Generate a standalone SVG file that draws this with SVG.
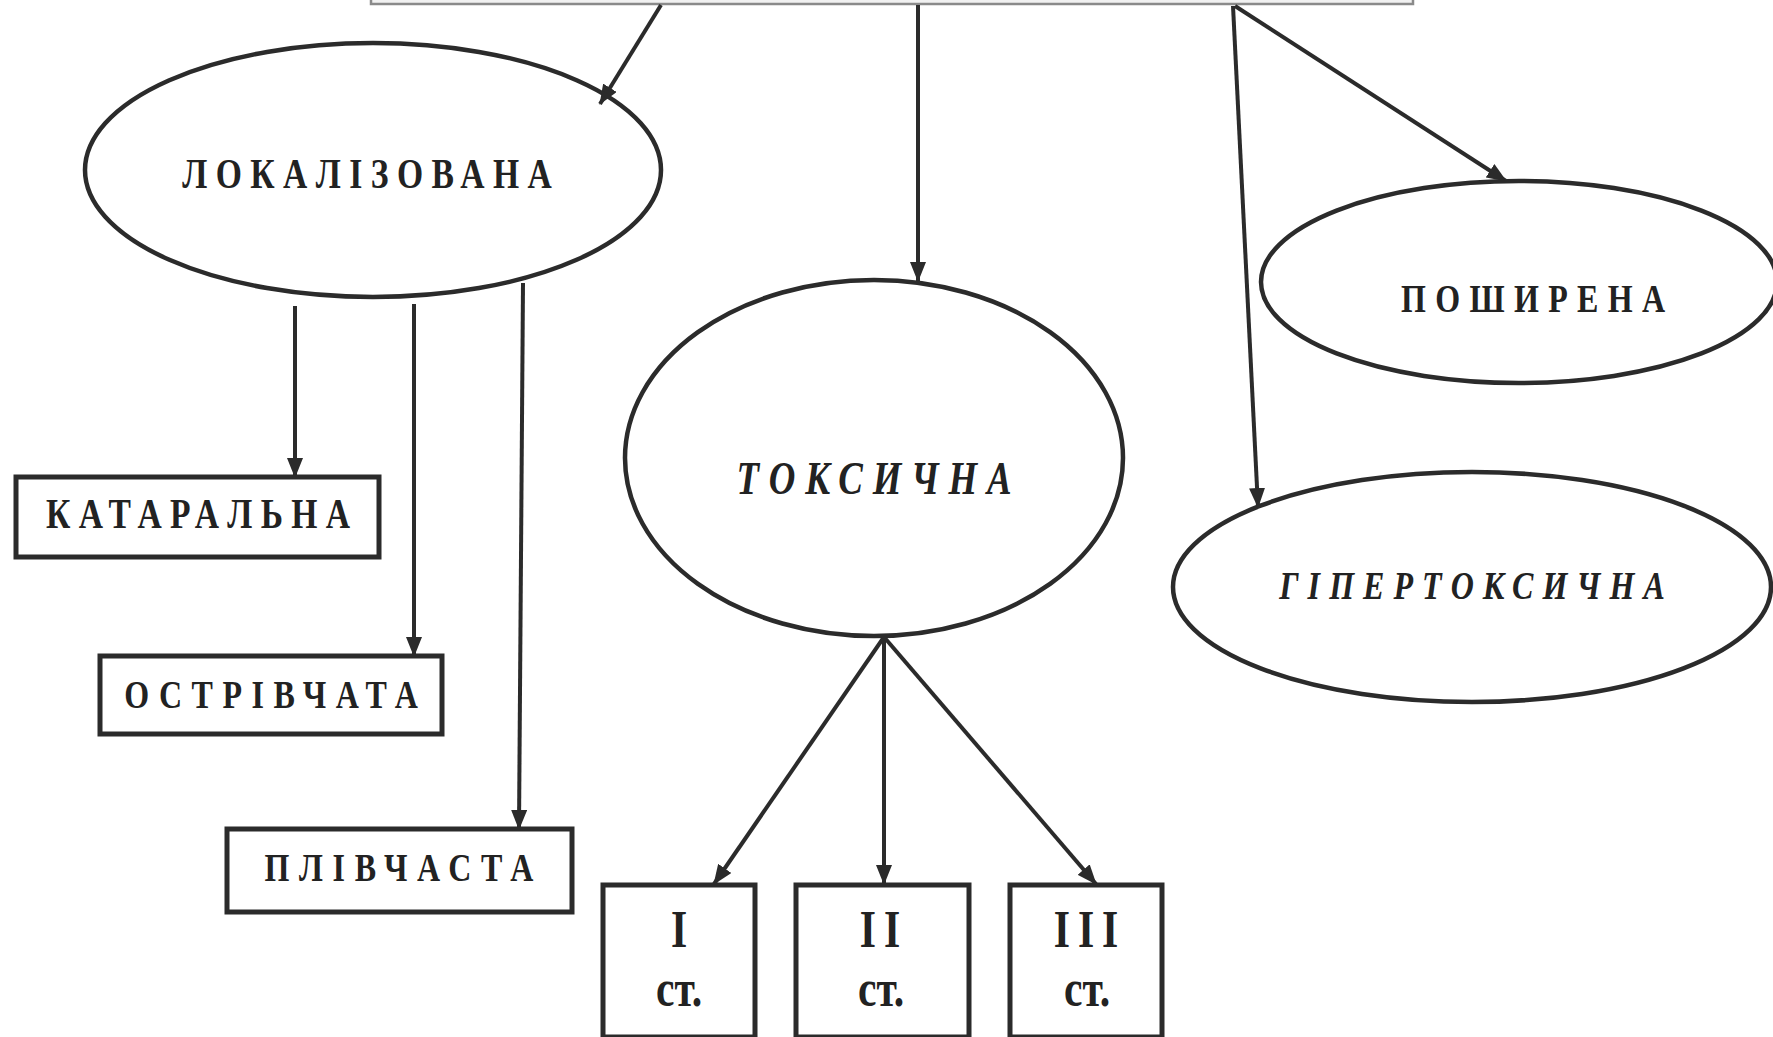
<svg xmlns="http://www.w3.org/2000/svg" width="1773" height="1037" viewBox="0 0 1773 1037">
<defs>
<style>
.node ellipse{fill:none;stroke:#2b2b2b;stroke-width:4.5}
.node rect{fill:#fff;stroke:#2b2b2b;stroke-width:5}
.lbl{font-family:"Liberation Serif","Times New Roman",serif;font-weight:bold;fill:#222;text-anchor:middle}
.it{font-style:italic}
.conn line{stroke:#2b2b2b;stroke-width:4;marker-end:url(#ah)}
</style>
<marker id="ah" markerUnits="userSpaceOnUse" markerWidth="20" markerHeight="16" refX="19" refY="8" orient="auto">
<path d="M0,0 L20,8 L0,16 z" fill="#2b2b2b"/>
</marker>
</defs>
<rect width="1773" height="1037" fill="#fff"/>

<g id="top">
<rect x="371" y="-30" width="1042" height="34" fill="#f1f1f1" stroke="#8a8a8a" stroke-width="2.5"/>
</g>

<g class="conn">
<line x1="661" y1="5" x2="600" y2="104"/>
<line x1="918" y1="5" x2="918" y2="281"/>
<line x1="1233" y1="6" x2="1258" y2="507"/>
<line x1="1235" y1="6" x2="1506" y2="181"/>
<line x1="295" y1="306" x2="295" y2="477"/>
<line x1="414" y1="304" x2="414" y2="656"/>
<line x1="523" y1="283" x2="519" y2="829"/>
<line x1="884" y1="637" x2="714" y2="884"/>
<line x1="884" y1="637" x2="884" y2="884"/>
<line x1="884" y1="637" x2="1096" y2="884"/>
</g>

<g id="lokalizovana" class="node">
<ellipse cx="373" cy="170" rx="288" ry="127"/>
<text class="lbl" font-size="42" transform="translate(367,188) scale(0.8,1)" textLength="462" lengthAdjust="spacing">ЛОКАЛІЗОВАНА</text>
</g>

<g id="toksychna" class="node">
<ellipse cx="874" cy="458" rx="249" ry="178"/>
<text class="lbl it" font-size="46" transform="translate(874,494) scale(0.8,1)" textLength="344" lengthAdjust="spacing">ТОКСИЧНА</text>
</g>

<g id="poshyrena" class="node">
<ellipse cx="1519" cy="282" rx="258" ry="101"/>
<text class="lbl" font-size="40" transform="translate(1533,312) scale(0.8,1)" textLength="330" lengthAdjust="spacing">ПОШИРЕНА</text>
</g>

<g id="hipertoksychna" class="node">
<ellipse cx="1472" cy="587" rx="299" ry="115"/>
<text class="lbl it" font-size="40" transform="translate(1472,599) scale(0.8,1)" textLength="482" lengthAdjust="spacing">ГІПЕРТОКСИЧНА</text>
</g>

<g id="kataralna" class="node">
<rect x="16" y="477" width="363" height="80"/>
<text class="lbl" font-size="42" transform="translate(198,528) scale(0.8,1)" textLength="380" lengthAdjust="spacing">КАТАРАЛЬНА</text>
</g>

<g id="ostrivchata" class="node">
<rect x="100" y="656" width="342" height="78"/>
<text class="lbl" font-size="40" transform="translate(271,708) scale(0.8,1)" textLength="367" lengthAdjust="spacing">ОСТРІВЧАТА</text>
</g>

<g id="plivchasta" class="node">
<rect x="227" y="829" width="345" height="83"/>
<text class="lbl" font-size="40" transform="translate(399,881) scale(0.8,1)" textLength="336" lengthAdjust="spacing">ПЛІВЧАСТА</text>
</g>

<g id="st1" class="node">
<rect x="603" y="885" width="152" height="152"/>
<text class="lbl" font-size="52" transform="translate(679,947) scale(0.8,1)">I</text>
<text class="lbl" font-size="52" transform="translate(679,1006) scale(0.8,1)">ст.</text>
</g>

<g id="st2" class="node">
<rect x="796" y="885" width="173" height="152"/>
<text class="lbl" font-size="52" transform="translate(884,947) scale(0.8,1)" letter-spacing="10">II</text>
<text class="lbl" font-size="52" transform="translate(881,1006) scale(0.8,1)">ст.</text>
</g>

<g id="st3" class="node">
<rect x="1010" y="885" width="152" height="152"/>
<text class="lbl" font-size="52" transform="translate(1090,947) scale(0.8,1)" letter-spacing="10">III</text>
<text class="lbl" font-size="52" transform="translate(1087,1006) scale(0.8,1)">ст.</text>
</g>
</svg>
